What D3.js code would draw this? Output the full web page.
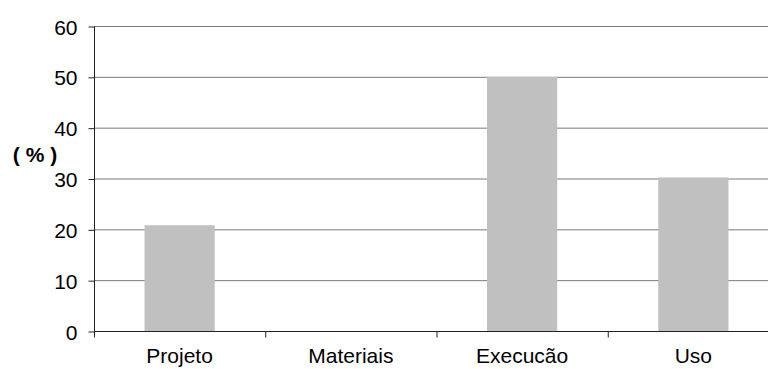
<!DOCTYPE html>
<html>
<head>
<meta charset="utf-8">
<script src="https://cdn.jsdelivr.net/npm/d3@7"></script>
<style>
  html, body { margin: 0; padding: 0; background: #fff; overflow: hidden; }
  svg { display: block; }
  text { font-family: Arial, "Liberation Sans", sans-serif; fill: #000; }
</style>
</head>
<body>
<svg id="chart" width="768" height="369"></svg>
<script>
const categories = ["Projeto", "Materiais", "Execucão", "Uso"];
const values = [20.8, 0, 50, 30.2];
const yTicks = [0, 10, 20, 30, 40, 50, 60];
const yLabel = "( % )";

const svg = d3.select("#chart");
const x0 = 94, x1 = 779, yTop = 26, yBot = 331;

const x = d3.scaleBand().domain(categories).range([x0, x1]).paddingInner(0).paddingOuter(0);
const y = d3.scaleLinear().domain([0, 60]).range([yBot, yTop]);
const barW = x.bandwidth() * 0.41;

// gridlines
svg.append("g").selectAll("line").data(yTicks.filter(d => d > 0)).join("line")
  .attr("x1", x0).attr("x2", x1)
  .attr("y1", d => y(d) + 0.5).attr("y2", d => y(d) + 0.5)
  .attr("stroke", "#7a7a7a").attr("stroke-width", 1);

// bars
svg.append("g").selectAll("rect").data(categories).join("rect")
  .attr("x", (d) => x(d) + (x.bandwidth() - barW) / 2)
  .attr("width", barW)
  .attr("y", (d, i) => y(values[i]))
  .attr("height", (d, i) => yBot - y(values[i]))
  .attr("fill", "#c0c0c0");

// y axis
const yAxis = d3.axisLeft(y).tickValues(yTicks).tickSize(6).tickPadding(11).tickFormat(d3.format("d"));
const gy = svg.append("g").attr("transform", `translate(${x0 + 0.5},0.5)`).call(yAxis);
gy.select(".domain").attr("stroke", "#222").attr("d", `M0,${yTop}V${yBot}`);
gy.selectAll(".tick line").attr("stroke", "#222");
gy.selectAll(".tick text").attr("font-size", "21px").attr("font-family", "Arial, 'Liberation Sans', sans-serif").attr("fill", "#000").attr("dy", "0.36em");

// x axis
const gx = svg.append("g").attr("transform", `translate(0,${yBot + 0.5})`);
gx.append("line").attr("x1", x0).attr("x2", x1).attr("y1", 0).attr("y2", 0).attr("stroke", "#222");
const boundaries = categories.map(c => x(c)).concat([x1]);
gx.selectAll("line.tk").data(boundaries).join("line").attr("class", "tk")
  .attr("x1", d => d + 0.5).attr("x2", d => d + 0.5).attr("y1", 0).attr("y2", 6).attr("stroke", "#222");
gx.selectAll("text").data(categories).join("text")
  .attr("x", d => x(d) + x.bandwidth() / 2)
  .attr("y", 31)
  .attr("text-anchor", "middle")
  .attr("font-size", "21px")
  .text(d => d);

// y label
svg.append("text").attr("x", 35).attr("y", 162).attr("text-anchor", "middle")
  .attr("font-size", "21px").attr("font-weight", "bold").text(yLabel);
</script>
</body>
</html>
